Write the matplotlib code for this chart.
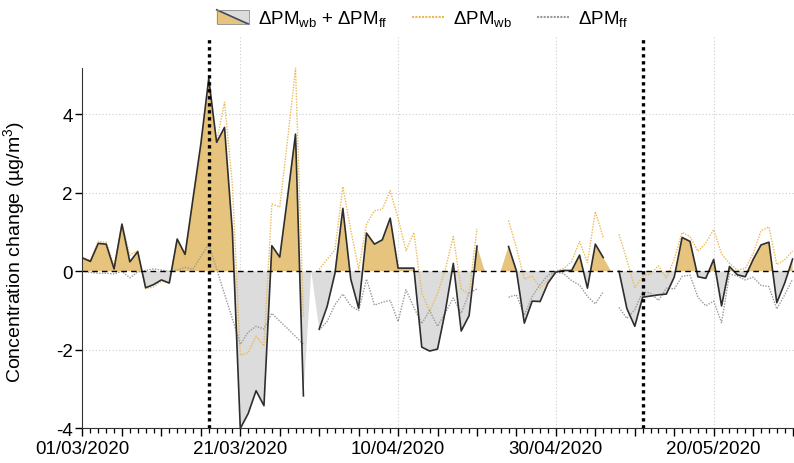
import numpy as np
import pandas as pd
import matplotlib
matplotlib.use("Agg")
import matplotlib.pyplot as plt
import matplotlib.dates as mdates
from matplotlib.patches import Polygon, Rectangle, Patch
from matplotlib.lines import Line2D
from matplotlib.legend_handler import HandlerBase

plt.rcParams['font.family'] = ['Liberation Sans', 'DejaVu Sans']
plt.rcParams['mathtext.fontset'] = 'custom'
plt.rcParams['mathtext.rm'] = 'Liberation Sans'
plt.rcParams['mathtext.it'] = 'Liberation Sans:italic'

nan = np.nan
dates = pd.date_range("2020-03-01", "2020-05-30", freq="D")

# Total change (wb + ff)
total = [0.34, 0.25, 0.71, 0.69, 0.06, 1.20, 0.24, 0.50, -0.42, -0.34,
         -0.22, -0.30, 0.82, 0.43, 1.84, 3.24, 4.90, 3.28, 3.66, 1.00,
         -4.00, -3.62, -3.04, -3.42, 0.65, 0.36, 1.90, 3.49, -3.17, nan,
         -1.47, -0.90, -0.05, 1.60, -0.20, -0.94, 0.97, 0.69, 0.80, 1.35,
         0.08, 0.08, 0.08, -1.93, -2.03, -1.98, -1.00, 0.20, -1.52, -1.13,
         0.64, nan, nan, nan, 0.63, 0.01, -1.32, -0.76, -0.77, -0.30,
         -0.02, 0.02, 0.02, 0.41, -0.43, 0.69, 0.35, nan, 0.00, -0.95,
         -1.40, -0.66, -0.63, -0.60, -0.58, -0.15, 0.86, 0.76, -0.14, -0.18,
         0.30, -0.88, 0.12, -0.09, -0.14, 0.30, 0.67, 0.74, -0.80, -0.30,
         0.31]

# Wood-burning contribution
wb = [0.34, 0.28, 0.76, 0.74, 0.13, 1.20, 0.41, 0.52, -0.44, -0.40,
      -0.25, -0.30, 0.79, 0.33, 1.79, 2.86, 4.20, 3.30, 4.30, 2.20,
      -2.14, -2.07, -1.65, -1.90, 1.71, 1.64, 3.36, 5.16, -1.17, nan,
      0.05, 0.30, 0.55, 2.15, 1.05, 0.06, 1.20, 1.54, 1.58, 2.05,
      1.35, 0.52, 0.99, -0.55, -1.02, -0.57, 0.06, 0.88, -0.45, -0.58,
      1.08, nan, nan, nan, 1.29, 0.60, -0.20, -0.12, -0.43, -0.22,
      0.01, 0.07, 0.25, 0.76, 0.22, 1.52, 0.86, nan, 0.94, 0.29,
      -0.42, -0.13, -0.07, 0.14, -0.17, 0.30, 0.99, 0.88, 0.51, 0.72,
      1.06, 0.44, 0.20, 0.03, 0.07, 0.45, 1.03, 1.13, 0.17, 0.29,
      0.52]

# Fossil-fuel contribution
ff = [0.00, -0.03, -0.05, -0.05, -0.07, 0.00, -0.17, -0.02, 0.02, 0.06,
      0.03, 0.00, 0.03, 0.10, 0.05, 0.38, 0.69, 0.06, -0.58, -1.21,
      -1.86, -1.55, -1.40, -1.47, -1.07, -1.27, -1.46, -1.66, -1.85, nan,
      -1.50, -1.28, -0.85, -0.58, -0.88, -1.00, -0.20, -0.86, -0.79, -0.74,
      -1.28, -0.47, -0.92, -1.33, -1.00, -1.40, -1.05, -0.68, -1.07, -0.55,
      -0.45, nan, nan, nan, -0.66, -0.60, -1.12, -0.64, -0.34, -0.10,
      -0.02, -0.06, -0.24, -0.35, -0.64, -0.83, -0.52, nan, -0.92, -1.20,
      -0.98, -0.52, -0.56, -0.74, -0.43, -0.45, -0.13, -0.10, -0.66, -0.88,
      -0.76, -1.31, -0.07, -0.12, -0.22, -0.15, -0.36, -0.39, -0.96, -0.60,
      -0.20]

event_dates = ["2020-03-17", "2020-05-11"]
label_dates = ["2020-03-01", "2020-03-21", "2020-04-10", "2020-04-30", "2020-05-20"]
yticks = [-4, -2, 0, 2, 4]

ORANGE_FILL = "#E7C47D"
GREY_FILL = "#DCDCDC"
ORANGE_LINE = "#EBBA55"
GREY_LINE = "#9A9A9A"
BLACK_LINE = "#2E2E2E"

total = np.array(total, dtype=float)
wb = np.array(wb, dtype=float)
ff = np.array(ff, dtype=float)
x = mdates.date2num(dates.to_pydatetime())

fig = plt.figure(figsize=(7.94, 4.64), dpi=100)
ax = fig.add_axes([0.1039, 0.0744, 0.8961, 0.8437])

pos = np.where(np.isnan(total), False, total >= 0)
neg = np.where(np.isnan(total), False, total <= 0)
tot0 = np.nan_to_num(total)
ax.fill_between(x, tot0, 0, where=pos, interpolate=True, color=ORANGE_FILL, lw=0, zorder=2)
ax.fill_between(x, tot0, 0, where=neg, interpolate=True, color=GREY_FILL, lw=0, zorder=2)

ax.plot(x, wb, color=ORANGE_LINE, lw=1.0, ls=(0, (1, 1)), zorder=3)
ax.plot(x, ff, color=GREY_LINE, lw=1.0, ls=(0, (1, 1)), zorder=3)
ax.plot(x, total, color=BLACK_LINE, lw=1.2, zorder=4)
ax.axhline(0, color="black", lw=1.0, ls=(0, (4, 3)), zorder=5)

for d in event_dates:
    ax.axvline(mdates.datestr2num(d), color="black", lw=2.4, ls=(0, (1, 1.1)), zorder=6)

x0 = x[0]
ax.set_xlim(x0, x0 + 90.18)
ax.set_ylim(-4, 5.96)

# grid
for d in label_dates[1:]:
    ax.axvline(mdates.datestr2num(d), color="#CCCCCC", lw=0.8, ls=(0, (1, 2)), zorder=1)
for yv in [-4, -2, 2, 4]:
    ax.axhline(yv, color="#CCCCCC", lw=0.8, ls=(0, (1, 2)), zorder=1)

# ticks
major = x[::5]
ax.set_xticks(major)
lbl_nums = set(np.round(mdates.datestr2num(label_dates)).astype(int))
ax.set_xticklabels([pd.Timestamp(mdates.num2date(v)).strftime("%d/%m/%Y") if int(round(v)) in lbl_nums else "" for v in major])
ax.set_xticks(x, minor=True)
ax.tick_params(axis="x", which="major", length=6, width=1, labelsize=13.5, pad=2)
ax.tick_params(axis="x", which="minor", length=3.5, width=0.9)
ax.set_yticks(yticks)
ax.set_yticklabels([str(v) for v in yticks])
ax.tick_params(axis="y", length=5, width=1, labelsize=13.5, pad=2)

for s in ["top", "right"]:
    ax.spines[s].set_visible(False)
ax.spines["left"].set_bounds(-4, 5.17)
ax.spines["left"].set_color("#333333")
ax.spines["bottom"].set_color("#333333")

ax.set_ylabel("Concentration change (µg/m$^{3}$)", fontsize=14)
ax.yaxis.set_label_coords(-0.078, 0.453)


class SplitHandler(HandlerBase):
    def create_artists(self, legend, orig_handle, xdescent, ydescent, width, height, fontsize, trans):
        a, b = -xdescent, -ydescent
        t1 = Polygon([[a, b], [a, b + height], [a + width, b]], closed=True,
                     fc=ORANGE_FILL, ec="none", transform=trans)
        t2 = Polygon([[a, b + height], [a + width, b + height], [a + width, b]], closed=True,
                     fc=GREY_FILL, ec="none", transform=trans)
        ln = Line2D([a, a + width], [b + height, b], color="#3c4a6a", lw=1.2, transform=trans)
        rc = Rectangle((a, b), width, height, fill=False, ec="#8a8a8a", lw=0.6, transform=trans)
        return [t1, t2, ln, rc]


split = Patch()
h_wb = Line2D([], [], color=ORANGE_LINE, lw=1.5, ls=(0, (1, 0.6)))
h_ff = Line2D([], [], color=GREY_LINE, lw=1.5, ls=(0, (1, 0.6)))
fig.legend([split, h_wb, h_ff],
           ["ΔPM$_{\\mathrm{wb}}$ + ΔPM$_{\\mathrm{ff}}$", "ΔPM$_{\\mathrm{wb}}$", "ΔPM$_{\\mathrm{ff}}$"],
           handler_map={split: SplitHandler()}, ncol=3, frameon=False,
           loc="center", bbox_to_anchor=(0.532, 0.958), fontsize=13.5,
           handlelength=1.7, handleheight=0.8, handletextpad=0.5, columnspacing=1.3)

fig.savefig("out.png", dpi=100)
